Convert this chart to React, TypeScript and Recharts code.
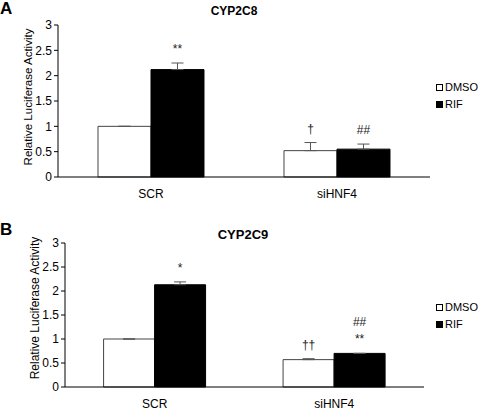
import { Bar, BarChart, ErrorBar, LabelList, XAxis, YAxis } from 'recharts'

const categories = ['SCR', 'siHNF4']
const yTicks = [0, 0.5, 1, 1.5, 2, 2.5, 3]
const seriesNames = ['DMSO', 'RIF']

// panel A — CYP2C8
const dmsoA = [1.0, 0.52]
const dmsoErrA = [0, 0.16]
const rifA = [2.12, 0.55]
const rifErrA = [0.13, 0.1]
const dmsoNotesA = [[], ['†']]
const rifNotesA = [['**'], ['##']]

// panel B — CYP2C9
const dmsoB = [1.0, 0.57]
const dmsoErrB = [0, 0.02]
const rifB = [2.13, 0.7]
const rifErrB = [0.06, 0]
const dmsoNotesB = [[], ['††']]
const rifNotesB = [['*'], ['##', '**']]

const FONT = '"Liberation Sans", Arial, sans-serif'

const buildRows = (dmso: number[], dmsoErr: number[], rif: number[], rifErr: number[]) =>
  categories.map((name, i) => ({
    name,
    dmso: dmso[i],
    dmsoErr: [0, dmsoErr[i]],
    rif: rif[i],
    rifErr: [0, rifErr[i]],
    idx: i,
  }))

// stacks the significance marks above the top of each error bar
const noteLabel = (values: number[], errs: number[], notes: string[][]) => (props: any) => {
  const { x, y, width, height, index } = props
  const lines = notes[index] || []
  if (!lines.length) return null
  const perUnit = Number(height) / values[index]
  const top = Number(y) - errs[index] * perUnit
  const cx = Number(x) + Number(width) / 2
  return (
    <g>
      {lines.map((t, k) => (
        <text
          key={k}
          x={cx}
          y={top - 10 - (lines.length - 1 - k) * 17}
          textAnchor="middle"
          fontSize={12}
          fontFamily={FONT}
          fill="#222"
        >
          {t}
        </text>
      ))}
    </g>
  )
}

function LegendBox({ top }: { top: number }) {
  return (
    <div
      style={{
        position: 'absolute',
        left: 436,
        top,
        fontFamily: FONT,
        fontSize: 11,
        color: '#000',
        lineHeight: '17px',
        whiteSpace: 'nowrap',
      }}
    >
      {seriesNames.map((n, i) => (
        <div key={n} style={{ display: 'flex', alignItems: 'center' }}>
          <span
            style={{
              width: i === 0 ? 5 : 7,
              height: i === 0 ? 5 : 7,
              border: i === 0 ? '1px solid #000' : 'none',
              background: i === 0 ? '#fff' : '#000',
              marginRight: 2,
            }}
          />
          {n}
        </div>
      ))}
    </div>
  )
}

type PanelProps = {
  letter: string
  title: string
  top: number
  height: number
  margin: { top: number; right: number; bottom: number; left: number }
  titleX: number
  titleY: number
  titleSize: number
  labelSize: number
  labelShift: number
  legendTop: number
  dmso: number[]
  dmsoErr: number[]
  rif: number[]
  rifErr: number[]
  dmsoNotes: string[][]
  rifNotes: string[][]
}

function Panel(p: PanelProps) {
  const rows = buildRows(p.dmso, p.dmsoErr, p.rif, p.rifErr)
  return (
    <div style={{ position: 'absolute', left: 0, top: p.top, width: 480, height: p.height }}>
      <BarChart
        width={480}
        height={p.height}
        data={rows}
        margin={p.margin}
        barCategoryGap="21.5%"
        barGap={0}
        style={{ fontFamily: FONT }}
      >
        <XAxis
          dataKey="name"
          tickLine={false}
          axisLine={{ stroke: '#000' }}
          tick={{ fill: '#000', fontSize: 12, fontFamily: FONT }}
          tickMargin={6}
          height={20}
        />
        <YAxis
          domain={[0, 3]}
          ticks={yTicks}
          interval={0}
          width={50}
          tickSize={4}
          tickMargin={2}
          axisLine={{ stroke: '#000' }}
          tickLine={{ stroke: '#000' }}
          tick={{ fill: '#000', fontSize: 12, fontFamily: FONT }}
          label={{
            value: 'Relative Luciferase Activity',
            content: (lp: any) => {
              const vb = lp.viewBox
              const cx = vb.x + 20
              const cy = vb.y + vb.height / 2 + p.labelShift
              return (
                <text
                  x={cx}
                  y={cy}
                  transform={`rotate(-90 ${cx} ${cy})`}
                  textAnchor="middle"
                  dominantBaseline="central"
                  fontSize={p.labelSize}
                  fontFamily={FONT}
                  fill="#000"
                >
                  Relative Luciferase Activity
                </text>
              )
            },
          }}
        />
        <Bar dataKey="dmso" name="DMSO" fill="#fff" stroke="#444" strokeWidth={1} isAnimationActive={false}>
          <ErrorBar dataKey="dmsoErr" width={6} stroke="#555" strokeWidth={1} direction="y" />
          <LabelList dataKey="idx" content={noteLabel(p.dmso, p.dmsoErr, p.dmsoNotes)} />
        </Bar>
        <Bar dataKey="rif" name="RIF" fill="#000" stroke="#000" strokeWidth={1} isAnimationActive={false}>
          <ErrorBar dataKey="rifErr" width={6} stroke="#555" strokeWidth={1} direction="y" />
          <LabelList dataKey="idx" content={noteLabel(p.rif, p.rifErr, p.rifNotes)} />
        </Bar>
      </BarChart>
      <LegendBox top={p.legendTop} />
      <div
        style={{
          position: 'absolute',
          left: 0,
          top: p.letter === 'A' ? 0 : 21,
          fontFamily: FONT,
          fontWeight: 'bold',
          fontSize: 17,
          lineHeight: '17px',
        }}
      >
        {p.letter}
      </div>
      <div
        style={{
          position: 'absolute',
          left: p.titleX - 50,
          width: 100,
          textAlign: 'center',
          top: p.titleY - 8,
          fontFamily: FONT,
          fontWeight: 'bold',
          fontSize: p.titleSize,
          lineHeight: '16px',
        }}
      >
        {p.title}
      </div>
    </div>
  )
}

export default function App() {
  return (
    <div style={{ position: 'absolute', left: 0, top: 0, width: 480, height: 410, background: '#fff', overflow: 'hidden' }}>
      <Panel
        letter="A"
        title="CYP2C8"
        top={0}
        height={200}
        margin={{ top: 25, right: 50, bottom: 3, left: 8 }}
        titleX={234}
        titleY={11}
        titleSize={12}
        labelSize={11.5}
        labelShift={-4}
        legendTop={79}
        dmso={dmsoA}
        dmsoErr={dmsoErrA}
        rif={rifA}
        rifErr={rifErrA}
        dmsoNotes={dmsoNotesA}
        rifNotes={rifNotesA}
      />
      <Panel
        letter="B"
        title="CYP2C9"
        top={200}
        height={210}
        margin={{ top: 43, right: 56, bottom: 3, left: 15 }}
        titleX={243}
        titleY={35}
        titleSize={13}
        labelSize={12}
        labelShift={-7}
        legendTop={99}
        dmso={dmsoB}
        dmsoErr={dmsoErrB}
        rif={rifB}
        rifErr={rifErrB}
        dmsoNotes={dmsoNotesB}
        rifNotes={rifNotesB}
      />
    </div>
  )
}
